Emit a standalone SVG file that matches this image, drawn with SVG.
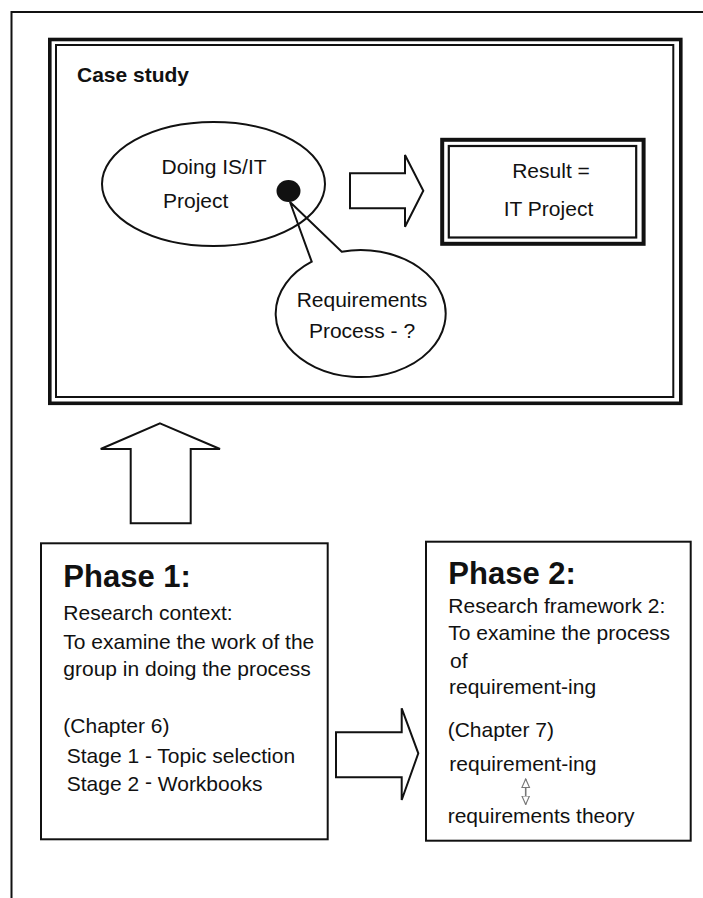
<svg xmlns="http://www.w3.org/2000/svg" width="703" height="898" viewBox="0 0 703 898">
  <style>
    .t { font-family: "Liberation Sans", Arial, sans-serif; font-size: 21px; fill: #111; }
    .b { font-weight: bold; }
    .h { font-family: "Liberation Sans", Arial, sans-serif; font-size: 31px; font-weight: bold; fill: #111; }
    .ln { fill: none; stroke: #111; }
    .blk { fill: #fff; stroke: #111; stroke-width: 2; stroke-linejoin: miter; }
  </style>
  <defs>
    <marker id="hollow" viewBox="0 0 10 10" refX="9" refY="5" markerWidth="6" markerHeight="6" orient="auto-start-reverse">
      <path d="M0,1 L9,5 L0,9 Z" fill="#fff" stroke="#777" stroke-width="1.2"/>
    </marker>
  </defs>
  <rect width="703" height="898" fill="#fff"/>

  <!-- page frame: top and left rules -->
  <path class="ln" stroke-width="2" d="M703,12 H11.5 V898"/>

  <!-- case study frame -->
  <g id="case-study">
    <rect class="ln" x="49.8" y="39.5" width="631" height="363.8" stroke-width="3.6"/>
    <rect class="ln" x="56" y="45" width="617.3" height="352" stroke-width="2"/>
    <text class="t b" x="77" y="82">Case study</text>
  </g>

  <g id="doing-project">
    <ellipse class="ln" cx="213.5" cy="184" rx="111.5" ry="62" stroke-width="2"/>
    <text class="t" x="161.5" y="174">Doing IS/IT</text>
    <text class="t" x="163" y="208">Project</text>
    <ellipse cx="288.5" cy="191" rx="12" ry="11" fill="#111"/>
  </g>

  <g id="requirements-callout">
    <path class="ln" stroke-width="2" fill="#fff" d="M311.7,261.7 L290,202 L341.7,251.7 A85 63.5 0 1 1 311.7,261.7 Z"/>
    <text class="t" x="362" y="306.5" text-anchor="middle">Requirements</text>
    <text class="t" x="362" y="338" text-anchor="middle">Process - ?</text>
  </g>

  <g id="result">
    <rect class="ln" x="442.2" y="139.8" width="201.4" height="104" stroke-width="4"/>
    <rect class="ln" x="448.8" y="146" width="187.4" height="91.5" stroke-width="2.2"/>
    <text class="t" x="551" y="177.5" text-anchor="middle">Result =</text>
    <text class="t" x="548.5" y="216" text-anchor="middle">IT Project</text>
  </g>

  <g id="phase-1">
    <rect class="ln" x="41" y="543.3" width="286.7" height="296" stroke-width="2"/>
    <text class="h" x="63.3" y="586.7">Phase 1:</text>
    <text class="t" x="63.3" y="620">Research context:</text>
    <text class="t" x="63.3" y="649">To examine the work of the</text>
    <text class="t" x="63.3" y="675.5">group in doing the process</text>
    <text class="t" x="63.3" y="733.3">(Chapter 6)</text>
    <text class="t" x="66.7" y="762.7">Stage 1 - Topic selection</text>
    <text class="t" x="66.7" y="791">Stage 2 <tspan dy="-2.5">-</tspan><tspan dy="2.5"> Workbooks</tspan></text>
  </g>

  <g id="phase-2">
    <rect class="ln" x="426" y="541.7" width="264.7" height="299" stroke-width="2"/>
    <text class="h" x="448.3" y="584">Phase 2:</text>
    <text class="t" x="448.3" y="612.7">Research framework 2:</text>
    <text class="t" x="448.3" y="640">To examine the process</text>
    <text class="t" x="450" y="667.7">of</text>
    <text class="t" x="449" y="694">requirement-ing</text>
    <text class="t" x="447.7" y="736.7">(Chapter 7)</text>
    <text class="t" x="449.3" y="771">requirement-ing</text>
    <text class="t" x="447.7" y="823.3">requirements theory</text>
  </g>

  <!-- connectors: block arrows and the small two-way link -->
  <g id="connectors">
    <path class="blk" d="M350,173.3 H405 V155 L423.3,190.7 L405,226.7 V208.3 H350 Z"/>
    <path class="blk" d="M160,423.3 L220,449 H190.7 V523.3 H130.7 V449 H100.7 Z"/>
    <path class="blk" d="M336,732.3 H401.7 V708.3 L418.3,753.3 L401.7,800 V777.3 H336 Z"/>
    <line x1="525.7" y1="779" x2="525.7" y2="804.5" stroke="#777" stroke-width="1.6" marker-start="url(#hollow)" marker-end="url(#hollow)"/>
  </g>
</svg>
